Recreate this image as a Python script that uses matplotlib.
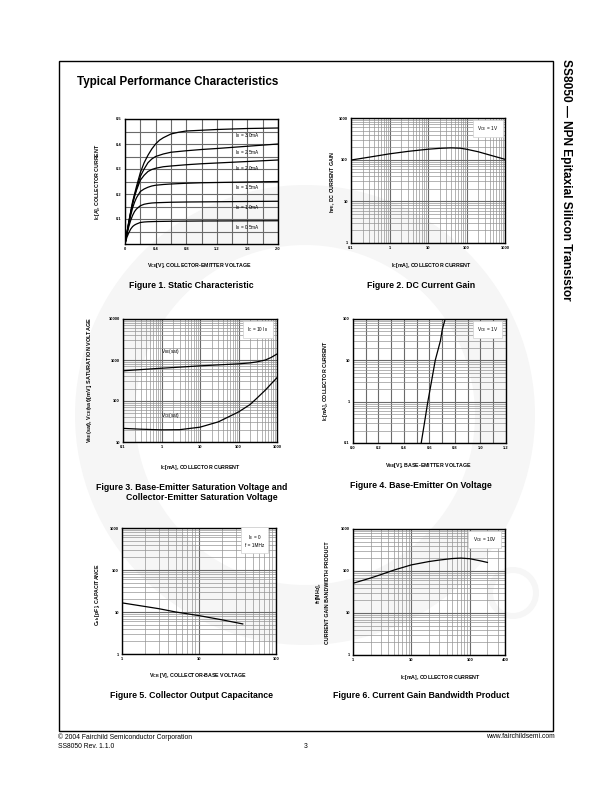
import matplotlib
matplotlib.use('Agg')
import matplotlib.pyplot as plt
from matplotlib.patches import Wedge, Rectangle
from matplotlib.ticker import FixedLocator, LogLocator, NullFormatter

plt.rcParams['font.family'] = ['Liberation Sans', 'DejaVu Sans']
plt.rcParams['mathtext.default'] = 'regular'

# ---------------- data ----------------
# Fig 1: static characteristic (Vce [V], Ic [A]) per base current
f1_ib_labels = ['3.0mA', '2.5mA', '2.0mA', '1.5mA', '1.0mA', '0.5mA']
f1_vce_30 = [0, 0.025, 0.05, 0.075, 0.1, 0.125, 0.15, 0.2, 0.25, 0.3, 0.35, 0.4, 0.45, 0.5, 0.6, 0.7, 0.8, 1.0, 1.2, 1.6, 2.0]
f1_ic_30 = [0, 0.045, 0.09, 0.13, 0.17, 0.20, 0.23, 0.285, 0.325, 0.355, 0.38, 0.40, 0.415, 0.425, 0.44, 0.447, 0.452, 0.455, 0.458, 0.462, 0.464]
f1_vce_25 = [0, 0.025, 0.05, 0.075, 0.1, 0.125, 0.15, 0.2, 0.25, 0.3, 0.35, 0.4, 0.5, 0.6, 0.8, 1.0, 1.2, 1.6, 2.0]
f1_ic_25 = [0, 0.044, 0.088, 0.128, 0.165, 0.195, 0.22, 0.27, 0.30, 0.325, 0.34, 0.35, 0.36, 0.367, 0.373, 0.378, 0.382, 0.391, 0.40]
f1_vce_20 = [0, 0.025, 0.05, 0.075, 0.1, 0.125, 0.15, 0.2, 0.25, 0.3, 0.35, 0.4, 0.5, 0.6, 0.8, 1.0, 1.2, 1.6, 2.0]
f1_ic_20 = [0, 0.043, 0.085, 0.125, 0.16, 0.19, 0.215, 0.255, 0.275, 0.29, 0.298, 0.303, 0.309, 0.312, 0.317, 0.321, 0.324, 0.33, 0.336]
f1_vce_15 = [0, 0.025, 0.05, 0.075, 0.1, 0.125, 0.15, 0.2, 0.25, 0.3, 0.35, 0.4, 0.5, 0.6, 0.8, 1.0, 1.2, 1.6, 2.0]
f1_ic_15 = [0, 0.042, 0.08, 0.115, 0.145, 0.167, 0.185, 0.21, 0.22, 0.227, 0.232, 0.235, 0.238, 0.24, 0.243, 0.245, 0.246, 0.248, 0.25]
f1_vce_10 = [0, 0.025, 0.05, 0.075, 0.1, 0.125, 0.15, 0.2, 0.25, 0.3, 0.35, 0.4, 0.6, 0.8, 1.2, 2.0]
f1_ic_10 = [0, 0.038, 0.07, 0.095, 0.115, 0.13, 0.14, 0.153, 0.159, 0.162, 0.164, 0.165, 0.167, 0.168, 0.169, 0.171]
f1_vce_05 = [0, 0.025, 0.05, 0.075, 0.1, 0.125, 0.15, 0.2, 0.25, 0.3, 0.35, 0.4, 0.6, 1.0, 2.0]
f1_ic_05 = [0, 0.027, 0.045, 0.06, 0.07, 0.076, 0.08, 0.086, 0.088, 0.089, 0.0895, 0.09, 0.091, 0.092, 0.093]
f1_label_y = [0.435, 0.364, 0.30, 0.224, 0.144, 0.067]

# Fig 2: DC current gain
f2_ic = [0.1, 0.3, 1, 3, 10, 20, 40, 70, 100, 200, 500, 1000]
f2_hfe = [98, 115, 138, 158, 178, 187, 192, 188, 178, 155, 122, 102]

# Fig 3: saturation voltages
f3_ic = [0.1, 0.3, 1, 3, 10, 30, 100, 200, 300, 500, 700, 1000]
f3_vbe = [545, 585, 630, 670, 720, 760, 805, 850, 900, 1000, 1150, 1400]
f3_vce = [21.5, 20.5, 19.8, 20, 23, 31, 54, 82, 117, 185, 260, 370]

# Fig 4: base-emitter on voltage
f4_vbe = [0.535, 0.56, 0.587, 0.615, 0.645, 0.686, 0.70, 0.723]
f4_ic = [0.1, 0.3, 1, 3, 10, 30, 55, 100]

# Fig 5: collector output capacitance
f5_vcb = [1, 2, 3, 5, 10, 20, 37]
f5_cob = [16.5, 13.5, 12, 10, 8.2, 6.5, 5.2]

# Fig 6: current gain bandwidth product
f6_ic = [1, 2, 3, 5, 10, 20, 30, 50, 70, 100, 150, 200]
f6_ft = [51, 68, 82, 105, 140, 168, 182, 198, 203, 196, 175, 160]

W, H = 612, 792
fig = plt.figure(figsize=(6.12, 7.92), dpi=100)

bg = fig.add_axes([0, 0, 1, 1], zorder=-5)
bg.set_xlim(0, W)
bg.set_ylim(H, 0)
bg.axis('off')
# faint watermark
bg.add_patch(Wedge((305, 415), 230, 0, 360, width=60, color='#f6f6f6', lw=0))
bg.add_patch(Wedge((513, 593), 26, 0, 360, width=6, color='#f6f6f6', lw=0))
# page frame
bg.add_patch(Rectangle((59, 61), 494, 670, fill=False, lw=1.0, ec='black'))


def ptext(x, y, s, **kw):
    bg.text(x, y, s, **kw)


def make_ax(x0, y0, x1, y1):
    return fig.add_axes([x0 / W, 1 - y1 / H, (x1 - x0) / W, (y1 - y0) / H], facecolor='none')


TL = 2.9
AL = 3.8
CAP = 6.3
LW = 0.9
MAJ = '#6a6a6a'
MIN = '#959595'


def style(ax, linear=False):
    for s in ax.spines.values():
        s.set_linewidth(1.0)
        s.set_color('black')
        s.set_zorder(5)
    ax.tick_params(which='both', length=0, labelsize=TL, pad=2.2)
    ax.set_axisbelow(True)
    ax.grid(which='major', color=MAJ, lw=0.8)
    if linear:
        ax.grid(which='minor', color=MAJ, lw=0.8)
    else:
        ax.grid(which='minor', color=MIN, lw=0.5)


def log_axis(axis, decades, labels):
    axis.set_major_locator(FixedLocator(decades))
    axis.set_minor_locator(LogLocator(base=10, subs=range(2, 10), numticks=20))
    axis.set_minor_formatter(NullFormatter())
    axis.set_ticklabels(labels, fontweight='bold', fontsize=TL)


def box(ax, x, y, s):
    ax.text(x, y, s, transform=ax.transAxes, ha='center', va='center', fontsize=3.4,
            zorder=6, linespacing=1.4,
            bbox=dict(boxstyle='square,pad=0.9', fc='white', ec='#d0d0d0', lw=0.5))


# ---------- Figure 1 ----------
ax1 = make_ax(125, 119, 278, 244)
curves = [(f1_vce_30, f1_ic_30), (f1_vce_25, f1_ic_25), (f1_vce_20, f1_ic_20),
          (f1_vce_15, f1_ic_15), (f1_vce_10, f1_ic_10), (f1_vce_05, f1_ic_05)]
for (vx, iy), lab, ly in zip(curves, f1_ib_labels, f1_label_y):
    ax1.plot(vx, iy, color='black', lw=LW, solid_joinstyle='round')
    ax1.text(1.6, ly, 'I$_B$ = ' + lab, ha='center', va='center', fontsize=3.4)
ax1.set_xlim(0, 2.0)
ax1.set_ylim(0, 0.5)
ax1.xaxis.set_major_locator(FixedLocator([0, 0.4, 0.8, 1.2, 1.6, 2.0]))
ax1.xaxis.set_minor_locator(FixedLocator([0.2, 0.6, 1.0, 1.4, 1.8]))
ax1.set_xticklabels(['0', '0.4', '0.8', '1.2', '1.6', '2.0'], fontweight='bold', fontsize=TL)
ax1.yaxis.set_major_locator(FixedLocator([0.1, 0.2, 0.3, 0.4, 0.5]))
ax1.yaxis.set_minor_locator(FixedLocator([0.05, 0.15, 0.25, 0.35, 0.45]))
ax1.set_yticklabels(['0.1', '0.2', '0.3', '0.4', '0.5'], fontweight='bold', fontsize=TL)
style(ax1, linear=True)
ptext(98, 182, 'I$_C$[A], COLLECTOR CURRENT', rotation=90, ha='center', va='center',
      fontsize=AL, fontweight='bold')
ptext(199, 266, 'V$_{CE}$[V], COLLECTOR-EMITTER VOLTAGE', ha='center', va='center',
      fontsize=AL, fontweight='bold')
ptext(191, 285, 'Figure 1. Static Characteristic', ha='center', va='center',
      fontsize=CAP, fontweight='bold')

# ---------- Figure 2 ----------
ax2 = make_ax(351, 118, 505, 243)
ax2.plot(f2_ic, f2_hfe, color='black', lw=LW)
ax2.set_xscale('log')
ax2.set_yscale('log')
ax2.set_xlim(0.1, 1000)
ax2.set_ylim(1, 1000)
log_axis(ax2.xaxis, [0.1, 1, 10, 100, 1000], ['0.1', '1', '10', '100', '1000'])
log_axis(ax2.yaxis, [1, 10, 100, 1000], ['1', '10', '100', '1000'])
style(ax2)
box(ax2, 0.89, 0.915, 'V$_{CE}$ = 1V')
ptext(333, 182, 'h$_{FE}$, DC CURRENT GAIN', rotation=90, ha='center', va='center',
      fontsize=AL, fontweight='bold')
ptext(431, 266, 'I$_C$[mA], COLLECTOR CURRENT', ha='center', va='center',
      fontsize=AL, fontweight='bold')
ptext(421, 285, 'Figure 2. DC Current Gain', ha='center', va='center',
      fontsize=CAP, fontweight='bold')

# ---------- Figure 3 ----------
ax3 = make_ax(123, 319, 277, 442)
ax3.plot(f3_ic, f3_vbe, color='black', lw=LW)
ax3.plot(f3_ic, f3_vce, color='black', lw=LW)
ax3.set_xscale('log')
ax3.set_yscale('log')
ax3.set_xlim(0.1, 1000)
ax3.set_ylim(10, 10000)
log_axis(ax3.xaxis, [0.1, 1, 10, 100, 1000], ['0.1', '1', '10', '100', '1000'])
log_axis(ax3.yaxis, [10, 100, 1000, 10000], ['10', '100', '1000', '10000'])
style(ax3)
ax3.text(1.7, 1650, 'V$_{BE}$(sat)', ha='center', va='center', fontsize=3.4)
ax3.text(1.7, 44, 'V$_{CE}$(sat)', ha='center', va='center', fontsize=3.4)
box(ax3, 0.875, 0.915, 'I$_C$ = 10 I$_B$')
ptext(90, 380, 'V$_{BE}$(sat), V$_{CE}$(sat)[mV], SATURATION VOLTAGE', rotation=90,
      ha='center', va='center', fontsize=4.0, fontweight='bold')
ptext(200, 467, 'I$_C$[mA], COLLECTOR CURRENT', ha='center', va='center',
      fontsize=AL, fontweight='bold')
ptext(192, 487, 'Figure 3. Base-Emitter Saturation Voltage and', ha='center', va='center',
      fontsize=CAP, fontweight='bold')
ptext(202, 497, 'Collector-Emitter Saturation Voltage', ha='center', va='center',
      fontsize=CAP, fontweight='bold')

# ---------- Figure 4 ----------
ax4 = make_ax(353, 319, 506, 443)
ax4.plot(f4_vbe, f4_ic, color='black', lw=LW)
ax4.set_yscale('log')
ax4.set_xlim(0, 1.2)
ax4.set_ylim(0.1, 100)
ax4.xaxis.set_major_locator(FixedLocator([0, 0.2, 0.4, 0.6, 0.8, 1.0, 1.2]))
ax4.xaxis.set_minor_locator(FixedLocator([0.1, 0.3, 0.5, 0.7, 0.9, 1.1]))
ax4.set_xticklabels(['0.0', '0.2', '0.4', '0.6', '0.8', '1.0', '1.2'], fontweight='bold', fontsize=TL)
log_axis(ax4.yaxis, [0.1, 1, 10, 100], ['0.1', '1', '10', '100'])
style(ax4)
ax4.xaxis.grid(which='minor', color=MAJ, lw=0.8)
box(ax4, 0.88, 0.915, 'V$_{CE}$ = 1V')
ptext(326, 381, 'I$_C$[mA], COLLECTOR CURRENT', rotation=90, ha='center', va='center',
      fontsize=AL, fontweight='bold')
ptext(428, 466, 'V$_{BE}$[V], BASE-EMITTER VOLTAGE', ha='center', va='center',
      fontsize=AL, fontweight='bold')
ptext(421, 485, 'Figure 4. Base-Emitter On Voltage', ha='center', va='center',
      fontsize=CAP, fontweight='bold')

# ---------- Figure 5 ----------
ax5 = make_ax(122, 528, 276, 654)
ax5.plot(f5_vcb, f5_cob, color='black', lw=LW)
ax5.set_xscale('log')
ax5.set_yscale('log')
ax5.set_xlim(1, 100)
ax5.set_ylim(1, 1000)
log_axis(ax5.xaxis, [1, 10, 100], ['1', '10', '100'])
log_axis(ax5.yaxis, [1, 10, 100, 1000], ['1', '10', '100', '1000'])
style(ax5)
box(ax5, 0.86, 0.9, 'I$_E$ = 0\nf = 1MHz')
ptext(98, 595, 'C$_{ob}$ [pF], CAPACITANCE', rotation=90, ha='center', va='center',
      fontsize=AL, fontweight='bold')
ptext(198, 676, 'V$_{CB}$ [V], COLLECTOR-BASE VOLTAGE', ha='center', va='center',
      fontsize=AL, fontweight='bold')
ptext(191, 696, 'Figure 5. Collector Output Capacitance', ha='center', va='center',
      fontsize=CAP, fontweight='bold')

# ---------- Figure 6 ----------
ax6 = make_ax(353, 529, 505, 655)
ax6.plot(f6_ic, f6_ft, color='black', lw=LW)
ax6.set_xscale('log')
ax6.set_yscale('log')
ax6.set_xlim(1, 400)
ax6.set_ylim(1, 1000)
log_axis(ax6.xaxis, [1, 10, 100, 400], ['1', '10', '100', '400'])
log_axis(ax6.yaxis, [1, 10, 100, 1000], ['1', '10', '100', '1000'])
style(ax6)
box(ax6, 0.865, 0.915, 'V$_{CE}$ = 10V')
ptext(322, 593, 'f$_T$[MHz],\nCURRENT GAIN BANDWIDTH PRODUCT', rotation=90, ha='center',
      va='center', fontsize=AL, fontweight='bold', multialignment='center', linespacing=1.6)
ptext(440, 678, 'I$_C$[mA], COLLECTOR CURRENT', ha='center', va='center',
      fontsize=AL, fontweight='bold')
ptext(421, 696, 'Figure 6. Current Gain Bandwidth Product', ha='center', va='center',
      fontsize=CAP, fontweight='bold')

# ---------- page texts ----------
ptext(77, 82, 'Typical Performance Characteristics', ha='left', va='center',
      fontsize=8.4, fontweight='bold')
ptext(566, 180, 'SS8050 \u2014 NPN Epitaxial Silicon Transistor', rotation=-90,
      ha='center', va='center', fontsize=8.6, fontweight='bold')
ptext(58, 737, '\u00a9 2004 Fairchild Semiconductor Corporation', ha='left', va='center', fontsize=4.9)
ptext(58, 747, 'SS8050 Rev. 1.1.0', ha='left', va='center', fontsize=4.9)
ptext(306, 747, '3', ha='center', va='center', fontsize=4.9)
ptext(555, 737, 'www.fairchildsemi.com', ha='right', va='center', fontsize=4.9)

fig.savefig('out.png', dpi=100)
